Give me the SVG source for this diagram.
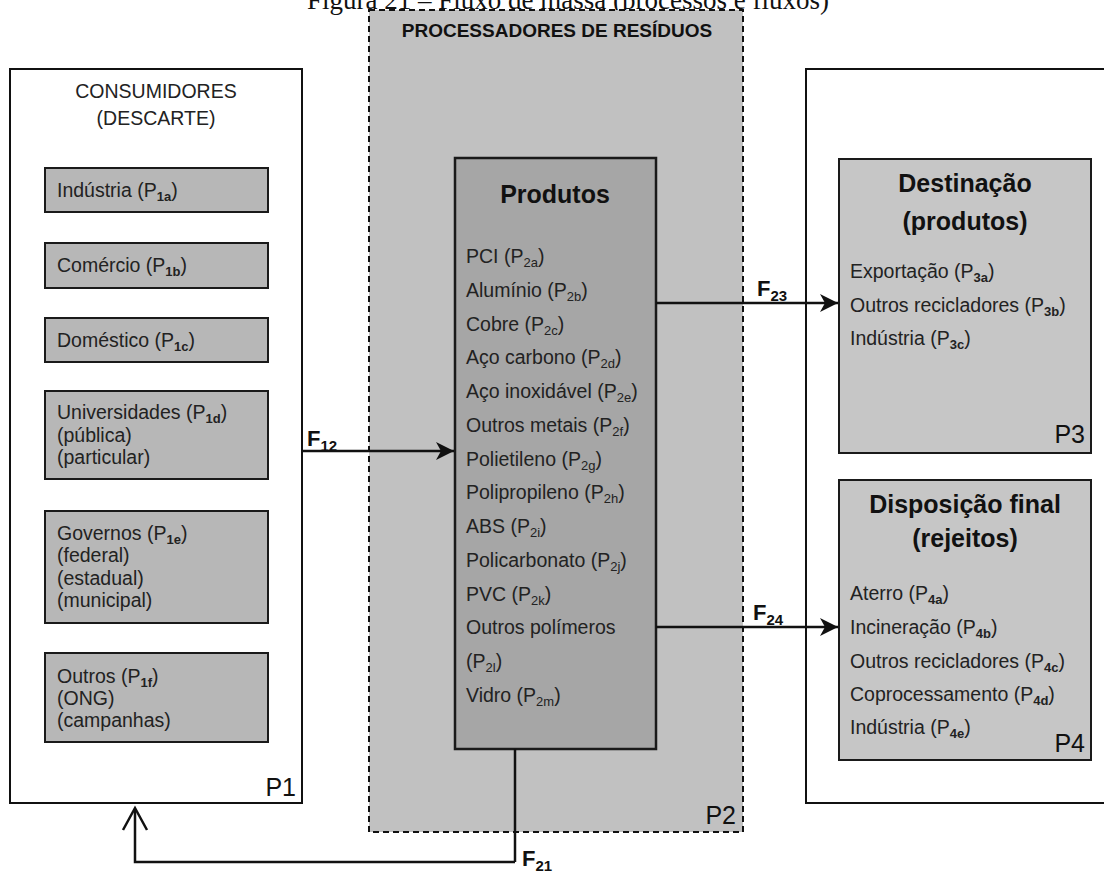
<svg xmlns="http://www.w3.org/2000/svg" width="1104" height="877" viewBox="0 0 1104 877">
  <style>
    .t { font-family: "Liberation Sans", Arial, sans-serif; font-size: 19.5px; fill: #222; }
    .s { font-size: 13px; }
    .sb { font-size: 13px; font-weight: bold; }
    .h { font-family: "Liberation Sans", Arial, sans-serif; font-weight: bold; fill: #111; }
    .lbl { font-family: "Liberation Sans", Arial, sans-serif; font-size: 25px; fill: #111; }
    .fl { font-family: "Liberation Sans", Arial, sans-serif; font-weight: bold; font-size: 22px; fill: #111; }
    .fs { font-size: 15px; }
    .outer { fill: #fff; stroke: #111; stroke-width: 2; }
    .cbox { fill: #b7b7b7; stroke: #1a1a1a; stroke-width: 2; }
    .dbox { fill: #c6c6c6; stroke: #1a1a1a; stroke-width: 2; }
    .pbox { fill: #a6a6a6; stroke: #1a1a1a; stroke-width: 2.5; }
    .dash { fill: #c1c1c1; stroke: #111; stroke-width: 2; stroke-dasharray: 6 4; }
    .flow { fill: none; stroke: #111; stroke-width: 2.5; }
  </style>
  <defs>
    <marker id="ah" markerUnits="userSpaceOnUse" markerWidth="20" markerHeight="20" refX="18" refY="9" orient="auto">
      <path d="M0,0 L18,9 L0,18 L5,9 Z" fill="#111"/>
    </marker>
  </defs>

  <rect width="1104" height="877" fill="#fff"/>

  <!-- caption line, clipped at the top edge -->
  <text x="568" y="9" text-anchor="middle" font-family="Liberation Serif, Times New Roman, serif" font-size="27" fill="#111">Figura 21 – Fluxo de massa (processos e fluxos)</text>

  <!-- P1: consumers -->
  <g id="P1">
    <rect class="outer" x="10" y="69" width="292" height="734"/>
    <text class="t" x="156" y="98" text-anchor="middle" font-size="22">CONSUMIDORES</text>
    <text class="t" x="156" y="125" text-anchor="middle" font-size="19.5">(DESCARTE)</text>
    <text class="lbl" x="296" y="796" text-anchor="end">P1</text>
  </g>
  <g id="P1a">
    <rect class="cbox" x="45" y="168" width="223" height="44"/>
    <text class="t" x="57" y="197">Indústria (P<tspan class="sb" dy="4">1a</tspan><tspan dy="-4">)</tspan></text>
  </g>
  <g id="P1b">
    <rect class="cbox" x="45" y="243" width="223" height="45"/>
    <text class="t" x="57" y="272">Comércio (P<tspan class="sb" dy="4">1b</tspan><tspan dy="-4">)</tspan></text>
  </g>
  <g id="P1c">
    <rect class="cbox" x="45" y="318" width="223" height="44"/>
    <text class="t" x="57" y="347">Doméstico (P<tspan class="sb" dy="4">1c</tspan><tspan dy="-4">)</tspan></text>
  </g>
  <g id="P1d">
    <rect class="cbox" x="45" y="391" width="223" height="88"/>
    <text class="t" x="57" y="419">Universidades (P<tspan class="sb" dy="4">1d</tspan><tspan dy="-4">)</tspan></text>
    <text class="t" x="57" y="442">(pública)</text>
    <text class="t" x="57" y="464">(particular)</text>
  </g>
  <g id="P1e">
    <rect class="cbox" x="45" y="511" width="223" height="112"/>
    <text class="t" x="57" y="540">Governos (P<tspan class="sb" dy="4">1e</tspan><tspan dy="-4">)</tspan></text>
    <text class="t" x="57" y="562">(federal)</text>
    <text class="t" x="57" y="585">(estadual)</text>
    <text class="t" x="57" y="607">(municipal)</text>
  </g>
  <g id="P1f">
    <rect class="cbox" x="45" y="653" width="223" height="89"/>
    <text class="t" x="57" y="683">Outros (P<tspan class="sb" dy="4">1f</tspan><tspan dy="-4">)</tspan></text>
    <text class="t" x="57" y="705">(ONG)</text>
    <text class="t" x="57" y="727">(campanhas)</text>
  </g>

  <!-- P2: waste processors -->
  <g id="P2">
    <rect class="dash" x="369" y="10" width="374" height="822"/>
    <text class="h" x="557" y="37" text-anchor="middle" font-size="19">PROCESSADORES DE RESÍDUOS</text>
    <text class="lbl" x="736" y="824" text-anchor="end">P2</text>
  </g>
  <g id="P2-produtos">
    <rect class="pbox" x="455" y="158" width="201" height="591"/>
    <text class="h" x="555" y="203" text-anchor="middle" font-size="25">Produtos</text>
    <text class="t" x="466" y="263">PCI (P<tspan class="s" dy="4">2a</tspan><tspan dy="-4">)</tspan></text>
    <text class="t" x="466" y="297">Alumínio (P<tspan class="s" dy="4">2b</tspan><tspan dy="-4">)</tspan></text>
    <text class="t" x="466" y="331">Cobre (P<tspan class="s" dy="4">2c</tspan><tspan dy="-4">)</tspan></text>
    <text class="t" x="466" y="364">Aço carbono (P<tspan class="s" dy="4">2d</tspan><tspan dy="-4">)</tspan></text>
    <text class="t" x="466" y="398">Aço inoxidável (P<tspan class="s" dy="4">2e</tspan><tspan dy="-4">)</tspan></text>
    <text class="t" x="466" y="432">Outros metais (P<tspan class="s" dy="4">2f</tspan><tspan dy="-4">)</tspan></text>
    <text class="t" x="466" y="466">Polietileno (P<tspan class="s" dy="4">2g</tspan><tspan dy="-4">)</tspan></text>
    <text class="t" x="466" y="499">Polipropileno (P<tspan class="s" dy="4">2h</tspan><tspan dy="-4">)</tspan></text>
    <text class="t" x="466" y="533">ABS (P<tspan class="s" dy="4">2i</tspan><tspan dy="-4">)</tspan></text>
    <text class="t" x="466" y="567">Policarbonato (P<tspan class="s" dy="4">2j</tspan><tspan dy="-4">)</tspan></text>
    <text class="t" x="466" y="601">PVC (P<tspan class="s" dy="4">2k</tspan><tspan dy="-4">)</tspan></text>
    <text class="t" x="466" y="634">Outros polímeros</text>
    <text class="t" x="466" y="668">(P<tspan class="s" dy="4">2l</tspan><tspan dy="-4">)</tspan></text>
    <text class="t" x="466" y="702">Vidro (P<tspan class="s" dy="4">2m</tspan><tspan dy="-4">)</tspan></text>
  </g>

  <!-- P3 / P4: destinations -->
  <g id="P34-frame">
    <rect class="outer" x="806" y="69" width="320" height="734"/>
  </g>
  <g id="P3">
    <rect class="dbox" x="839" y="159" width="252" height="294"/>
    <text class="h" x="965" y="192" text-anchor="middle" font-size="25">Destinação</text>
    <text class="h" x="965" y="230" text-anchor="middle" font-size="25">(produtos)</text>
    <text class="t" x="850" y="278">Exportação (P<tspan class="sb" dy="4">3a</tspan><tspan dy="-4">)</tspan></text>
    <text class="t" x="850" y="312">Outros recicladores (P<tspan class="sb" dy="4">3b</tspan><tspan dy="-4">)</tspan></text>
    <text class="t" x="850" y="345">Indústria (P<tspan class="sb" dy="4">3c</tspan><tspan dy="-4">)</tspan></text>
    <text class="lbl" x="1085" y="443" text-anchor="end">P3</text>
  </g>
  <g id="P4">
    <rect class="dbox" x="839" y="480" width="252" height="280"/>
    <text class="h" x="965" y="513" text-anchor="middle" font-size="25">Disposição final</text>
    <text class="h" x="965" y="547" text-anchor="middle" font-size="25">(rejeitos)</text>
    <text class="t" x="850" y="600">Aterro (P<tspan class="sb" dy="4">4a</tspan><tspan dy="-4">)</tspan></text>
    <text class="t" x="850" y="634">Incineração (P<tspan class="sb" dy="4">4b</tspan><tspan dy="-4">)</tspan></text>
    <text class="t" x="850" y="668">Outros recicladores (P<tspan class="sb" dy="4">4c</tspan><tspan dy="-4">)</tspan></text>
    <text class="t" x="850" y="701">Coprocessamento (P<tspan class="sb" dy="4">4d</tspan><tspan dy="-4">)</tspan></text>
    <text class="t" x="850" y="734">Indústria (P<tspan class="sb" dy="4">4e</tspan><tspan dy="-4">)</tspan></text>
    <text class="lbl" x="1085" y="752" text-anchor="end">P4</text>
  </g>

  <!-- mass flows -->
  <g id="flows">
    <line class="flow" x1="302" y1="451" x2="454" y2="451" marker-end="url(#ah)"/>
    <line class="flow" x1="656" y1="303" x2="838" y2="303" marker-end="url(#ah)"/>
    <line class="flow" x1="656" y1="627" x2="838" y2="627" marker-end="url(#ah)"/>
    <line class="flow" x1="515" y1="749" x2="515" y2="862" stroke-width="1.8"/>
    <path class="flow" d="M515,862 H135 V809"/>
    <path class="flow" d="M123,830 L135,808 L147,830"/>
    <text class="fl" x="307" y="446">F<tspan class="fs" dy="5">12</tspan></text>
    <text class="fl" x="757" y="296">F<tspan class="fs" dy="5">23</tspan></text>
    <text class="fl" x="753" y="620">F<tspan class="fs" dy="5">24</tspan></text>
    <text class="fl" x="522" y="866">F<tspan class="fs" dy="5">21</tspan></text>
  </g>
</svg>
